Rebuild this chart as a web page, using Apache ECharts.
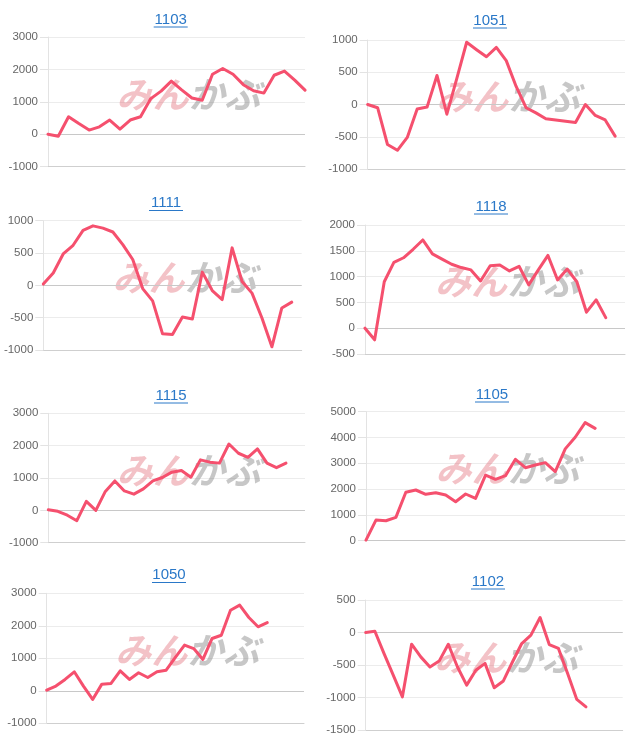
<!DOCTYPE html>
<html>
<head>
<meta charset="utf-8">
<script src="https://cdn.jsdelivr.net/npm/echarts@6/dist/echarts.min.js"></script>
<style>
html,body{margin:0;padding:0;background:#fff;}
#chart{width:640px;height:745px;}
</style>
</head>
<body>
<div id="chart"></div>
<script>
// ---- data ----
const titles = ['1103', '1051', '1111', '1118', '1115', '1105', '1050', '1102'];
const periods = ['1','2','3','4','5','6','7','8','9','10','11','12','13','14','15','16','17','18','19','20','21','22','23','24','25','26','27','28','29'];
const periodCounts = [26, 27, 27, 28, 28, 27, 29, 29];

const values1103 = [0, -60, 540, 330, 130, 230, 440, 160, 440, 540, 1100, 1330, 1640, 1370, 1120, 1050, 1850, 2030, 1850, 1530, 1340, 1270, 1820, 1950, 1670, 1360];
const values1051 = [0, -50, -620, -710, -510, -70, -40, 450, -150, 400, 965, 850, 740, 885, 680, 280, -50, -130, -220, -240, -260, -280, 0, -170, -240, -490];
const values1111 = [20, 190, 485, 620, 850, 920, 885, 825, 630, 400, -50, -240, -750, -760, -490, -520, 205, -80, -220, 580, 60, -120, -505, -950, -350, -260];
const values1118 = [0, -225, 900, 1275, 1365, 1530, 1710, 1440, 1340, 1240, 1175, 1130, 915, 1210, 1225, 1110, 1200, 840, 1130, 1410, 935, 1145, 900, 310, 550, 205];
const values1115 = [20, -30, -150, -320, 280, 0, 585, 910, 600, 500, 665, 910, 1015, 1180, 1230, 1025, 1560, 1490, 1460, 2050, 1765, 1640, 1900, 1460, 1320, 1460];
const values1105 = [25, 800, 775, 905, 1880, 1965, 1800, 1860, 1770, 1510, 1810, 1640, 2545, 2380, 2520, 3155, 2830, 2935, 3025, 2680, 3560, 4010, 4575, 4355];
const values1050 = [20, 145, 350, 585, 145, -265, 205, 225, 615, 350, 555, 410, 585, 635, 1025, 1405, 1300, 965, 1610, 1710, 2480, 2635, 2255, 1970, 2100];
const values1102 = [0, 20, -325, -655, -990, -180, -375, -530, -440, -180, -530, -810, -580, -475, -850, -745, -450, -170, -40, 230, -185, -245, -630, -1030, -1145];

const yMins  = [-1000, -1000, -1000, -500, -1000, 0, -1000, -1500];
const yMaxs  = [3000, 1000, 1000, 2000, 3000, 5000, 3000, 500];
const ySteps = [1000, 500, 500, 500, 1000, 1000, 1000, 500];

const seriesValues = [values1103, values1051, values1111, values1118, values1115, values1105, values1050, values1102];

// ---- layout / style ----
const plots = [
  {l: 48, t: 37, r: 305, b: 166.7},
  {l: 367.7, t: 40, r: 625, b: 169},
  {l: 43.3, t: 220.7, r: 301.7, b: 350},
  {l: 365, t: 225, r: 625, b: 354},
  {l: 48.3, t: 413.3, r: 305, b: 542.7},
  {l: 366, t: 411.7, r: 625, b: 540.7},
  {l: 46.7, t: 593.3, r: 304, b: 723.3},
  {l: 365.7, t: 600, r: 622.7, b: 730}
];
const titlePos = [[170.7, 19.5], [490, 20.5], [166, 203], [491, 206.5], [171, 395.5], [492, 394.5], [169, 575], [488, 581.5]];

const FONT = '"Liberation Sans", Arial, Helvetica, sans-serif';
const LINK = '#2a78c8';
const LINE = '#f5506e';

const option = {
  animation: false,
  grid: [], xAxis: [], yAxis: [], series: [], graphic: []
};

for (let i = 0; i < titles.length; i++) {
  const p = plots[i];
  option.grid.push({left: p.l, top: p.t, width: p.r - p.l, height: p.b - p.t, containLabel: false});
  option.xAxis.push({
    type: 'category', gridIndex: i, data: periods.slice(0, periodCounts[i]), boundaryGap: false,
    axisLine: {show: true, onZero: false, lineStyle: {color: '#cfcfcf'}},
    axisTick: {show: false}, axisLabel: {show: false}, splitLine: {show: false}
  });
  option.yAxis.push({
    type: 'value', gridIndex: i, min: yMins[i], max: yMaxs[i], interval: ySteps[i],
    axisLine: {show: true, lineStyle: {color: '#e3e3e3'}},
    axisTick: {show: true, length: 8, lineStyle: {color: '#e3e3e3'}},
    axisLabel: {margin: 10, color: '#666666', fontSize: 11.5, fontFamily: FONT, formatter: v => String(v)},
    splitLine: {show: true, lineStyle: {color: '#ececec'}}
  });
  option.series.push({
    type: 'line', xAxisIndex: i, yAxisIndex: i, data: seriesValues[i],
    symbol: 'none', smooth: false, z: 3,
    lineStyle: {color: LINE, width: 3, cap: 'round', join: 'round'},
    markLine: {
      silent: true, symbol: 'none', z: 1, animation: false,
      label: {show: false},
      lineStyle: {color: '#c8c8c8', type: 'solid', width: 1},
      data: [{yAxis: 0}]
    }
  });

  // watermark
  const wx = (p.l + p.r) / 2 + 12;
  const wy = (p.t + p.b) / 2 - 8;
  option.graphic.push({
    type: 'text', x: wx, y: wy, z: 1, silent: true,
    style: {text: 'みん', font: 'italic bold 36px "Noto Sans CJK JP"', fill: 'rgba(226,110,122,0.42)', textAlign: 'right', textVerticalAlign: 'middle'}
  });
  option.graphic.push({
    type: 'text', x: wx, y: wy, z: 1, silent: true,
    style: {text: 'かぶ', font: 'italic bold 36px "Noto Sans CJK JP"', fill: 'rgba(130,130,130,0.45)', textAlign: 'left', textVerticalAlign: 'middle'}
  });

  // title (link style)
  const [cx, cy] = titlePos[i];
  option.graphic.push({
    type: 'text', x: cx, y: cy, z: 5,
    style: {text: titles[i], font: '15px ' + FONT, fill: LINK, textAlign: 'center', textVerticalAlign: 'middle'}
  });
  option.graphic.push({
    type: 'line', z: 5, silent: true,
    shape: {x1: cx - 17, y1: cy + 7.5, x2: cx + 17, y2: cy + 7.5},
    style: {stroke: LINK, lineWidth: 1}
  });
}

const chart = echarts.init(document.getElementById('chart'), null, {renderer: 'canvas'});
chart.setOption(option);
</script>
</body>
</html>
